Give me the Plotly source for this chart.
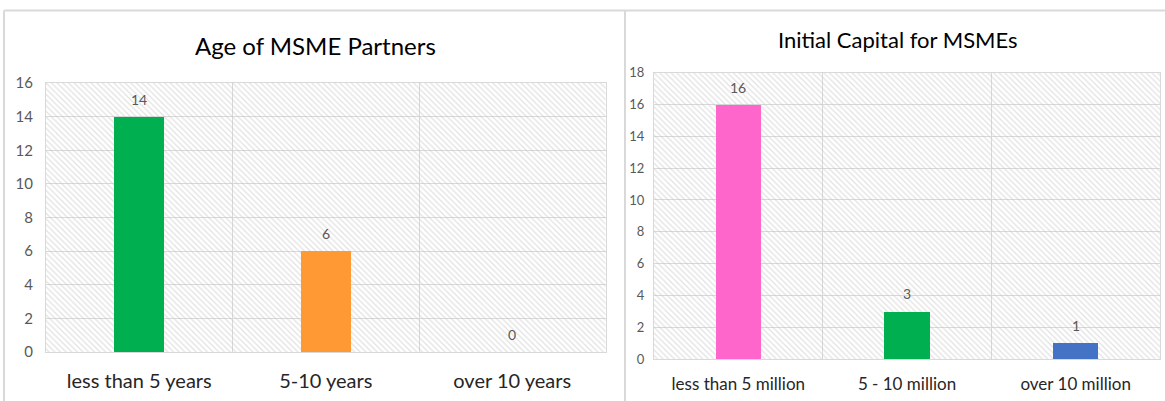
import plotly.graph_objects as go

# Data
age_categories = ["less than 5 years", "5-10 years", "over 10 years"]
age_values = [14, 6, 0]
age_colors = ["#00B050", "#FF9933", "#FF9933"]

capital_categories = ["less than 5 million", "5 - 10 million", "over 10 million"]
capital_values = [16, 3, 1]
capital_colors = ["#FF66CC", "#00B050", "#4472C4"]

age_ymax = 16
capital_ymax = 18

W, H = 1165, 401
FONT = "Lato"

fig = go.Figure()

def hatch_trace(cats, ymax, xa, ya):
    return go.Bar(
        x=[cats[1]], y=[ymax], width=[3],
        marker=dict(color="rgba(0,0,0,0)", line=dict(width=0),
                    pattern=dict(shape="\\", fgcolor="#c4c4c4", bgcolor="rgba(0,0,0,0)",
                                 size=4, solidity=0.3)),
        xaxis=xa, yaxis=ya, hoverinfo="skip", showlegend=False,
    )

# Left chart
fig.add_trace(hatch_trace(age_categories, age_ymax, "x", "y"))
fig.add_trace(go.Bar(
    x=age_categories, y=age_values, width=0.27,
    marker=dict(color=age_colors, line=dict(width=0)),
    xaxis="x", yaxis="y", showlegend=False, hoverinfo="skip",
))

# Right chart
fig.add_trace(hatch_trace(capital_categories, capital_ymax, "x2", "y2"))
fig.add_trace(go.Bar(
    x=capital_categories, y=capital_values, width=0.27,
    marker=dict(color=capital_colors, line=dict(width=0)),
    xaxis="x2", yaxis="y2", showlegend=False, hoverinfo="skip",
))

grid = "#d9d9d9"

def xaxis(domain, size, cats, standoff, anchor):
    return dict(domain=domain, type="category", categoryorder="array", categoryarray=cats,
                tickson="boundaries", showgrid=True, automargin=False, anchor=anchor,
                gridcolor=grid, gridwidth=1, ticks="", showline=True, linecolor=grid,
                mirror=True, tickfont=dict(family=FONT, size=size, color="#262626"),
                ticklabelstandoff=standoff, range=[-0.5, 2.5], fixedrange=True)

def yaxis(domain, ymax, anchor, size, standoff):
    return dict(domain=domain, range=[0, ymax], dtick=2, showgrid=True, gridcolor=grid,
                gridwidth=1, zeroline=False, showline=True, linecolor=grid, mirror=True,
                ticks="", tickfont=dict(family=FONT, size=size, color="#595959"),
                ticklabelstandoff=standoff, anchor=anchor, fixedrange=True, automargin=False)

def value_labels(cats, vals, xref, yref):
    return [dict(text=str(v), x=c, y=v, xref=xref, yref=yref, showarrow=False,
                 xanchor="center", yanchor="bottom", yshift=7,
                 font=dict(family=FONT, size=14, color="#595959"))
            for c, v in zip(cats, vals)]

annotations = [
    dict(text="Age of MSME Partners", x=315 / W, y=1 - 45 / H, xref="paper", yref="paper",
         showarrow=False, xanchor="center", yanchor="middle",
         font=dict(family=FONT, size=24, color="#000000")),
    dict(text="Initial Capital for MSMEs", x=898 / W, y=1 - 39 / H, xref="paper", yref="paper",
         showarrow=False, xanchor="center", yanchor="middle",
         font=dict(family=FONT, size=22, color="#000000")),
]
annotations += value_labels(age_categories, age_values, "x", "y")
annotations += value_labels(capital_categories, capital_values, "x2", "y2")

fig.update_layout(
    width=W, height=H,
    margin=dict(l=0, r=0, t=0, b=0, pad=0, autoexpand=False),
    paper_bgcolor="white", plot_bgcolor="white",
    barmode="overlay", bargap=0,
    xaxis=xaxis([46 / W, 605.5 / W], 20, age_categories, 11, "y"),
    yaxis=yaxis([(H - 352) / H, (H - 83) / H], age_ymax, "x", 15, 9),
    xaxis2=xaxis([654 / W, 1160 / W], 17, capital_categories, 10, "y2"),
    yaxis2=yaxis([(H - 359) / H, (H - 72.7) / H], capital_ymax, "x2", 13, 6),
    annotations=annotations,
    shapes=[
        dict(type="line", xref="paper", yref="paper", x0=4 / W, x1=1, y0=1 - 10.5 / H, y1=1 - 10.5 / H,
             line=dict(color=grid, width=2)),
        dict(type="line", xref="paper", yref="paper", x0=4 / W, x1=4 / W, y0=0, y1=1 - 10.5 / H,
             line=dict(color=grid, width=2)),
        dict(type="line", xref="paper", yref="paper", x0=625 / W, x1=625 / W, y0=0, y1=1 - 10.5 / H,
             line=dict(color=grid, width=2)),
    ],
    hovermode=False,
)

fig.write_html("out.html", config={"displayModeBar": False})
